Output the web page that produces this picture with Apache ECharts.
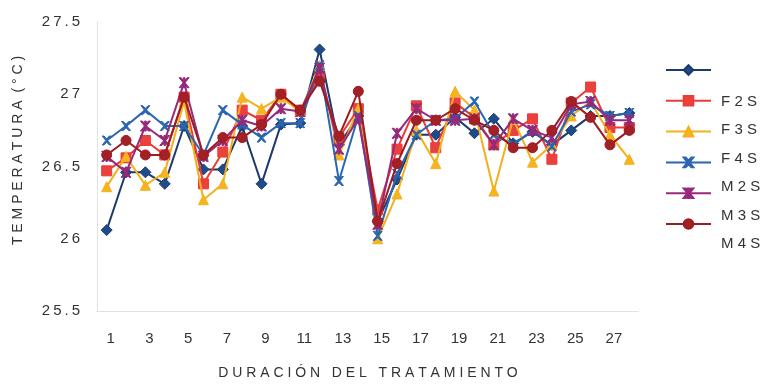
<!DOCTYPE html>
<html>
<head>
<meta charset="utf-8">
<script src="https://cdn.jsdelivr.net/npm/echarts@6/dist/echarts.min.js"></script>
<style>
  html, body { margin: 0; padding: 0; background: #fff; }
  #chart { width: 767px; height: 385px; }
</style>
</head>
<body>
<div id="chart"></div>
<script>
const days = Array.from({ length: 28 }, (_, i) => String(i + 1));

const f1s = [26.06, 26.46, 26.46, 26.38, 26.78, 26.48, 26.48, 26.78, 26.38, 26.79, 26.80, 27.31, 26.65, 26.85,
  26.12, 26.41, 26.72, 26.72, 26.84, 26.73, 26.83, 26.66, 26.74, 26.65, 26.75, 26.85, 26.85, 26.87];
const f2s = [26.47, 26.56, 26.68, 26.58, 26.98, 26.38, 26.60, 26.89, 26.82, 27.00, 26.89, 27.12, 26.70, 26.90,
  26.20, 26.62, 26.92, 26.63, 26.94, 26.84, 26.65, 26.75, 26.83, 26.55, 26.94, 27.05, 26.77, 26.77];
const f3s = [26.36, 26.57, 26.37, 26.46, 26.95, 26.27, 26.38, 26.98, 26.90, 26.98, 26.88, 27.20, 26.58, 26.90,
  26.00, 26.31, 26.75, 26.52, 27.02, 26.89, 26.33, 26.83, 26.53, 26.65, 26.85, 26.95, 26.72, 26.55];
const f4s = [26.68, 26.78, 26.89, 26.78, 26.78, 26.58, 26.89, 26.79, 26.70, 26.80, 26.80, 27.20, 26.40, 26.85,
  26.02, 26.45, 26.72, 26.82, 26.83, 26.95, 26.72, 26.65, 26.75, 26.64, 26.88, 26.93, 26.85, 26.87];
const m2s = [26.57, 26.46, 26.78, 26.68, 27.08, 26.57, 26.68, 26.82, 26.78, 26.90, 26.88, 27.18, 26.62, 26.83,
  26.10, 26.73, 26.90, 26.82, 26.82, 26.83, 26.65, 26.83, 26.75, 26.70, 26.93, 26.95, 26.82, 26.82];
const m3s = [26.58, 26.68, 26.58, 26.58, 26.98, 26.58, 26.70, 26.70, 26.79, 27.00, 26.89, 27.09, 26.71, 27.02,
  26.12, 26.52, 26.82, 26.82, 26.90, 26.82, 26.75, 26.63, 26.63, 26.75, 26.95, 26.84, 26.65, 26.75];

const seriesNames = ["F1S", "F2S", "F3S", "F4S", "M2S", "M3S"];
const legendLabels = ["F2S", "F3S", "F4S", "M2S", "M3S", "M4S"];

const crossPath = "path://M0,0L2,0L5,3L8,0L10,0L6,5L10,10L8,10L5,7L2,10L0,10L4,5Z";
const starPath = "path://M0,0L2,0L5,3L8,0L10,0L6,5L10,10L8,10L5,7L2,10L0,10L4,5ZM4.2,0L5.8,0L5.8,10L4.2,10Z";

const styles = [
  { data: f1s, line: "#1d3a6c", fill: "#1f4c88", symbol: "diamond", size: 11 },
  { data: f2s, line: "#ec3a36", fill: "#e9423d", symbol: "rect", size: 10 },
  { data: f3s, line: "#f4b01c", fill: "#f6b51e", symbol: "triangle", size: 10 },
  { data: f4s, line: "#2c65b0", fill: "#2c65b0", symbol: crossPath, size: 9 },
  { data: m2s, line: "#952a7c", fill: "#952a7c", symbol: starPath, size: 10 },
  { data: m3s, line: "#9c1b21", fill: "#a32026", symbol: "circle", size: 10 },
];

const spaced = (s) => s.split("").join(" ");
const textColor = "#333333";

const series = styles.map((s, i) => ({
  name: seriesNames[i],
  type: "line",
  data: s.data,
  symbol: s.symbol,
  symbolSize: s.size,
  lineStyle: { color: s.line, width: 2 },
  itemStyle: { color: s.fill, borderColor: s.line, borderWidth: 1 },
  z: 2 + i,
}));
// empty series so the last legend label has an entry
series.push({ name: "M4S", type: "line", data: [], symbol: "none", lineStyle: { opacity: 0 } });

const chart = echarts.init(document.getElementById("chart"), null, { renderer: "canvas" });
chart.setOption({
  animation: false,
  backgroundColor: "#ffffff",
  textStyle: { fontFamily: "Liberation Sans, Arial, sans-serif" },
  grid: { left: 97, right: 128, top: 22, bottom: 68, containLabel: false },
  legend: [
    {
      orient: "vertical",
      left: 660,
      top: 59,
      itemWidth: 45,
      itemHeight: 12,
      itemGap: 19,
      data: seriesNames,
      formatter: () => "",
      selectedMode: false,
    },
    {
      orient: "vertical",
      left: 704,
      top: 89,
      itemWidth: 1,
      itemHeight: 14,
      itemGap: 13.5,
      data: legendLabels,
      formatter: (name) => name.split("").join(" "),
      itemStyle: { opacity: 0 },
      lineStyle: { opacity: 0 },
      textStyle: { color: textColor, fontSize: 15 },
      selectedMode: false,
    },
  ],
  xAxis: {
    type: "category",
    data: days,
    boundaryGap: true,
    name: "D U R A C I Ó N   D E L   T R A T A M I E N T O",
    nameLocation: "middle",
    nameGap: 55,
    nameTextStyle: { color: textColor, fontSize: 14 },
    axisLine: { show: true, lineStyle: { color: "#dcdcdc", type: "dotted" } },
    axisTick: { show: false },
    axisLabel: { interval: 1, color: textColor, fontSize: 15, margin: 20, padding: [0, 0, 0, 8] },
    splitLine: { show: false },
  },
  yAxis: {
    type: "value",
    min: 25.5,
    max: 27.5,
    interval: 0.5,
    name: spaced("TEMPERATURA") + "  " + spaced("(°C)"),
    nameLocation: "middle",
    nameGap: 72,
    nameTextStyle: { color: textColor, fontSize: 14, padding: [0, 0, 0, 32] },
    axisLine: { show: true, lineStyle: { color: "#dcdcdc", type: "dotted" } },
    axisTick: { show: false },
    axisLabel: {
      color: textColor,
      fontSize: 15,
      margin: 17,
      formatter: (v) => String(v).split("").join("\u2009"),
    },
    splitLine: { show: false },
  },
  series,
});
</script>
</body>
</html>
